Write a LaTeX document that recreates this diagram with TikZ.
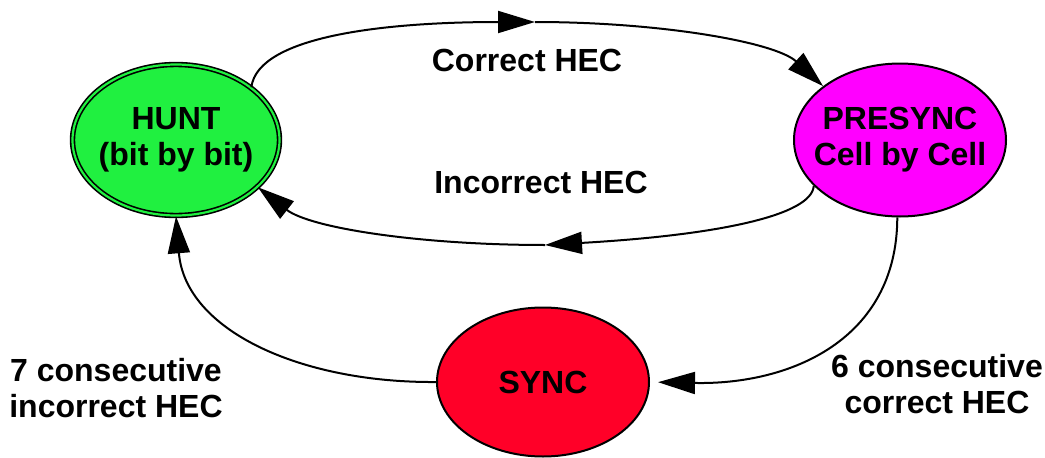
\documentclass[tikz,border=0pt]{standalone}
\usepackage{fontspec}
\setmainfont{Liberation Sans}
\usetikzlibrary{shapes.geometric,arrows.meta}
\definecolor{huntgreen}{RGB}{32,240,64}
\definecolor{presyncmag}{RGB}{255,0,255}
\definecolor{syncred}{RGB}{255,0,40}
\begin{document}
\begin{tikzpicture}[x=1pt,y=-1pt,
  every node/.style={font=\fontsize{32}{36}\selectfont\bfseries, align=center},
  state/.style={ellipse, draw=black, line width=2pt, inner sep=-60pt},
  conn/.style={line width=2pt, -{Triangle[length=37pt,width=22pt]}}]
\useasboundingbox (0,0) rectangle (1045,458);
\node[state, fill=huntgreen, line width=1.6pt, double=huntgreen, double distance=2.2pt,
      minimum width=207pt, minimum height=151pt] (hunt) at (176,140) {HUNT\\(bit by bit)};
\node[state, fill=presyncmag, minimum width=212pt, minimum height=153pt] (presync) at (900,140) {PRESYNC\\Cell by Cell};
\node[state, fill=syncred, minimum width=212pt, minimum height=149pt] (sync) at (543,382) {SYNC};
\coordinate (topmid) at (535,22);
\coordinate (botmid) at (545,245);
% top arc
\draw[conn] (hunt.35) .. controls (258,35) and (390,22) .. (topmid);
\draw[conn] (topmid) .. controls (660,22) and (775,42) .. (presync.145);
% bottom arc
\draw[conn] (presync.208) .. controls (812,215) and (720,235) .. (botmid);
\draw[conn] (botmid) .. controls (420,245) and (310,228) .. (hunt.-30);
% presync -> sync
\draw[conn, shorten >=8pt] (presync.-92) .. controls (897,340) and (790,385) .. (sync.0);
% sync -> hunt
\draw[conn] (sync.180) .. controls (300,383) and (185,330) .. (hunt.-90);
% labels
\node (lcorrect) at (527,60) {Correct HEC};
\node (lincorrect) at (541,182) {Incorrect HEC};
\node (lseven) at (116,388) {7 consecutive\\incorrect HEC};
\node (lsix) at (937,384) {6 consecutive\\correct HEC};
\end{tikzpicture}
\end{document}
